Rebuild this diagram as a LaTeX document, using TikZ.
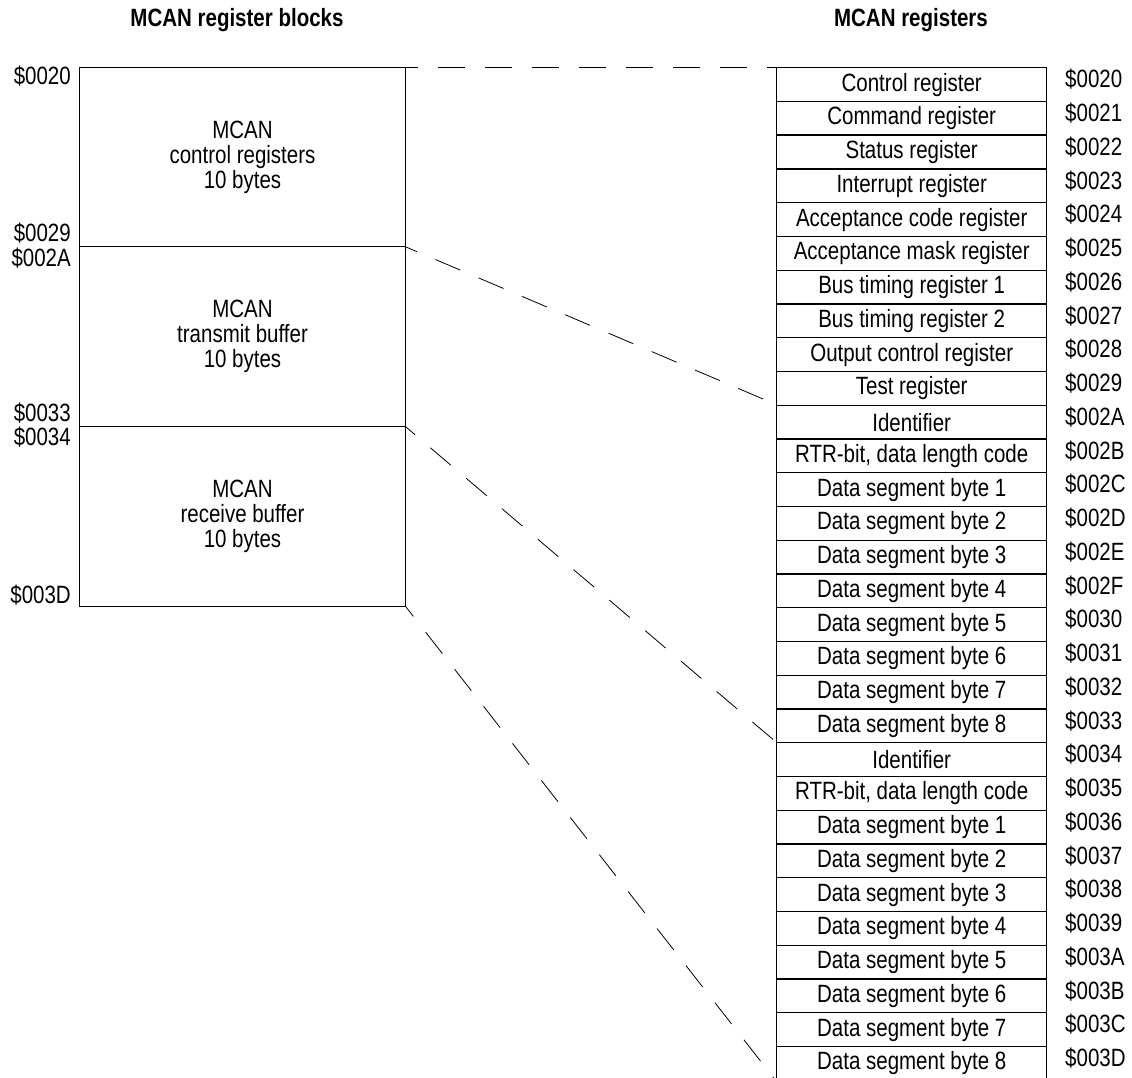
\documentclass[tikz,border=0pt]{standalone}
\usepackage{fontspec}
\setmainfont{Liberation Sans}[FakeStretch=0.82]
\begin{document}
\begin{tikzpicture}[x=1pt,y=-1pt,
  block/.style={draw,line width=1pt,minimum width=326pt,inner sep=0pt,align=center,font=\fontsize{25}{25}\selectfont},
  reg/.style={draw,line width=1.4pt,minimum width=270pt,minimum height=33.75pt,inner sep=0pt,anchor=north west,font=\fontsize{25}{25}\selectfont},
  addr/.style={inner sep=0pt,font=\fontsize{25}{25}\selectfont},
  ttl/.style={inner sep=0pt,font=\bfseries\fontsize{25}{25}\selectfont},
  link/.style={line width=0.8pt,dash pattern=on 27pt off 20pt,dash phase=15pt}]
\useasboundingbox (0,0) rectangle (1132,1078);
\node[ttl] (t1) at (237,20) {MCAN register blocks};
\node[ttl] (t2) at (911,20) {MCAN registers};
\node[block,minimum height=179pt,anchor=north west] (ctrl) at (79,67) {MCAN\\control registers\\10 bytes};
\node[block,minimum height=180pt,anchor=north west] (tx) at (79,246) {MCAN\\transmit buffer\\10 bytes};
\node[block,minimum height=180pt,anchor=north west] (rx) at (79,426) {MCAN\\receive buffer\\10 bytes};
\node[addr,anchor=east] (l1) at (71,76) {\$0020};
\node[addr,anchor=east] (l2) at (71,233) {\$0029};
\node[addr,anchor=east] (l3) at (71,258) {\$002A};
\node[addr,anchor=east] (l4) at (71,413) {\$0033};
\node[addr,anchor=east] (l5) at (71,437) {\$0034};
\node[addr,anchor=east] (l6) at (71,595) {\$003D};
\foreach \t [count=\i from 0] in {Control register,Command register,Status register,Interrupt register,Acceptance code register,Acceptance mask register,Bus timing register 1,Bus timing register 2,Output control register,Test register,Identifier,{RTR-bit, data length code},Data segment byte 1,Data segment byte 2,Data segment byte 3,Data segment byte 4,Data segment byte 5,Data segment byte 6,Data segment byte 7,Data segment byte 8,Identifier,{RTR-bit, data length code},Data segment byte 1,Data segment byte 2,Data segment byte 3,Data segment byte 4,Data segment byte 5,Data segment byte 6,Data segment byte 7,Data segment byte 8}{
  \node[reg] (r\i) at (776,{67+\i*33.75}) {\t};
}
\foreach \a [count=\i from 0] in {0020,0021,0022,0023,0024,0025,0026,0027,0028,0029,002A,002B,002C,002D,002E,002F,0030,0031,0032,0033,0034,0035,0036,0037,0038,0039,003A,003B,003C,003D}{
  \node[addr,anchor=west] (a\i) at (1065,{79.5+\i*33.75}) {\$\a};
}
\draw[link] (ctrl.north east) -- (r0.north west);
\draw[link] (ctrl.south east) -- (r10.north west);
\draw[link] (tx.south east) -- (r20.north west);
\draw[link] (rx.south east) -- (r29.south west);
\end{tikzpicture}
\end{document}
